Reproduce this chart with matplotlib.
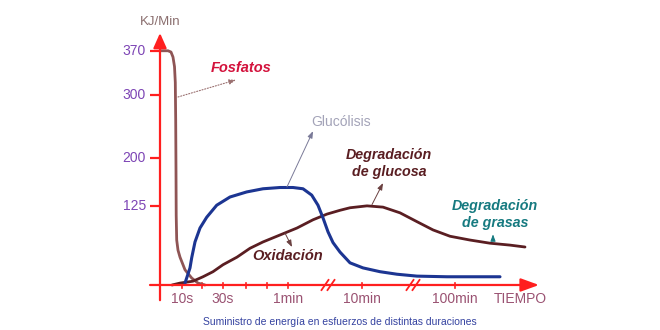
import numpy as np
import matplotlib
matplotlib.use("Agg")
import matplotlib.pyplot as plt

# ---- data: power output (kJ/min) against position on a broken time axis ----
time_ticks = [22, 63, 128, 202, 295]
time_labels = ["10s", "30s", "1min", "10min", "100min"]
minor_ticks = [42, 86, 107]
axis_breaks = [168, 253]

power_ticks = [370, 300, 200, 125]

fosfatos_x = [1, 8, 11, 13, 14.5, 15.3, 15.7, 16, 16.2, 16.7, 18, 20, 25, 31.7, 38, 45]
fosfatos_y = [370, 370, 368, 360, 345, 320, 260, 180, 110, 71, 55, 44, 24, 11, 3, 0]

glucolisis_x = [25, 30, 31.7, 35, 40, 46.7, 56.7, 70, 86.7, 103, 120, 133, 143,
                151.7, 158, 163, 168, 173, 180, 190, 203, 220, 237, 257, 287, 340]
glucolisis_y = [3, 27, 43, 68, 90, 107, 126, 139, 147, 152, 154, 154, 152, 142,
                126, 106, 84, 67, 52, 35, 27, 21, 17, 14, 13, 13]

oxidacion_x = [12, 20, 33, 43, 53, 63, 77, 90, 103, 120, 137, 153, 167, 180, 190,
               207, 223, 240, 257, 273, 290, 310, 330, 350, 365]
oxidacion_y = [0, 3, 6, 13, 21, 32, 44, 58, 68, 79, 90, 103, 112, 118, 122, 125,
               123, 114, 100, 87, 77, 71, 66, 63, 60]

# ---- colours ----
AXIS_RED = "#ff1f1f"
TICK_PURPLE = "#7d45b5"
LABEL_MAUVE = "#9a5272"
FOSF_COLOR = "#8f5555"
GLUC_BLUE = "#1c3592"
OXI_BROWN = "#5a1e22"
TEAL = "#167a80"

plt.rcParams["font.family"] = ["Liberation Sans", "DejaVu Sans"]

fig = plt.figure(figsize=(6.6, 3.3), dpi=100)
ax = fig.add_axes([0, 0, 1, 1])
ax.set_xlim(-160, 500)
ax.set_ylim(-71.1, 450.2)
ax.set_axis_off()

# ---- axes drawn as arrows ----
ax.annotate("", xy=(0, 398), xytext=(0, -24),
            arrowprops=dict(arrowstyle="-|>,head_length=0.9,head_width=0.4",
                            color=AXIS_RED, lw=1.6, shrinkA=0, shrinkB=0))
ax.annotate("", xy=(379, 0), xytext=(-10, 0),
            arrowprops=dict(arrowstyle="-|>,head_length=1.1,head_width=0.4",
                            color=AXIS_RED, lw=1.6, shrinkA=0, shrinkB=0))

for v in power_ticks:
    ax.plot([-10, 0], [v, v], color=AXIS_RED, lw=1.6, solid_capstyle="butt")
    ax.text(-14, v, str(v), ha="right", va="center", fontsize=10,
            color=TICK_PURPLE)

for t, lab in zip(time_ticks, time_labels):
    ax.plot([t, t], [3, -5], color=AXIS_RED, lw=1.2)
    ax.text(t, -22, lab, ha="center", va="center", fontsize=10,
            color=LABEL_MAUVE)
for t in minor_ticks:
    ax.plot([t, t], [3, -5], color=AXIS_RED, lw=1.2)
for b in axis_breaks:
    for off in (-3, 3):
        ax.plot([b + off - 3.5, b + off + 3.5], [-8, 8], color=AXIS_RED, lw=1.3)

ax.text(360, -22, "TIEMPO", ha="center", va="center", fontsize=10,
        color=LABEL_MAUVE)
ax.text(0, 415, "KJ/Min", ha="center", va="center", fontsize=9.5,
        color="#8a6e6e")

# ---- curves ----
line_kw = dict(solid_joinstyle="round", solid_capstyle="round")
ax.plot(fosfatos_x, fosfatos_y, color=FOSF_COLOR, lw=2.0, **line_kw)
ax.plot(oxidacion_x, oxidacion_y, color=OXI_BROWN, lw=2.0, **line_kw)
ax.plot(glucolisis_x, glucolisis_y, color=GLUC_BLUE, lw=2.2, **line_kw)

# ---- labels with pointers ----
ax.text(81, 343, "Fosfatos", ha="center", va="center", fontsize=10.5,
        fontweight="bold", fontstyle="italic", color="#d3123c")
ax.annotate("", xy=(76, 324), xytext=(18, 297),
            arrowprops=dict(arrowstyle="-|>,head_length=0.4,head_width=0.15",
                            color="#9a7070", lw=0.8, ls=(0, (1, 1.5)),
                            shrinkA=0, shrinkB=0))

ax.text(181, 257, "Glucólisis", ha="center", va="center", fontsize=10,
        color="#a3a3b8")
ax.annotate("", xy=(153, 243), xytext=(127, 155),
            arrowprops=dict(arrowstyle="-|>,head_length=0.4,head_width=0.15",
                            color="#7a7a98", lw=0.7, shrinkA=0, shrinkB=0))

ax.text(229, 192, "Degradación\nde glucosa", ha="center", va="center",
        fontsize=10.3, fontweight="bold", fontstyle="italic", color=OXI_BROWN,
        linespacing=1.25)
ax.annotate("", xy=(223, 161), xytext=(212, 127),
            arrowprops=dict(arrowstyle="-|>,head_length=0.4,head_width=0.15",
                            color="#6a4040", lw=0.7, shrinkA=0, shrinkB=0))

ax.text(335, 111, "Degradación\nde grasas", ha="center", va="center",
        fontsize=10.3, fontweight="bold", fontstyle="italic", color=TEAL,
        linespacing=1.25)
ax.annotate("", xy=(333, 80), xytext=(333, 74),
            arrowprops=dict(arrowstyle="-|>,head_length=0.4,head_width=0.15",
                            color=TEAL, lw=0.7, shrinkA=0, shrinkB=0))

ax.text(128, 46, "Oxidación", ha="center", va="center", fontsize=10.5,
        fontweight="bold", fontstyle="italic", color=OXI_BROWN)
ax.annotate("", xy=(132, 60), xytext=(125, 82),
            arrowprops=dict(arrowstyle="-|>,head_length=0.4,head_width=0.15",
                            color="#6a4040", lw=0.7, shrinkA=0, shrinkB=0))

ax.text(180, -58, "Suministro de energía en esfuerzos de distintas duraciones",
        ha="center", va="center", fontsize=7.5, color="#3442a0")

fig.savefig("out.png", dpi=100, facecolor="white")
